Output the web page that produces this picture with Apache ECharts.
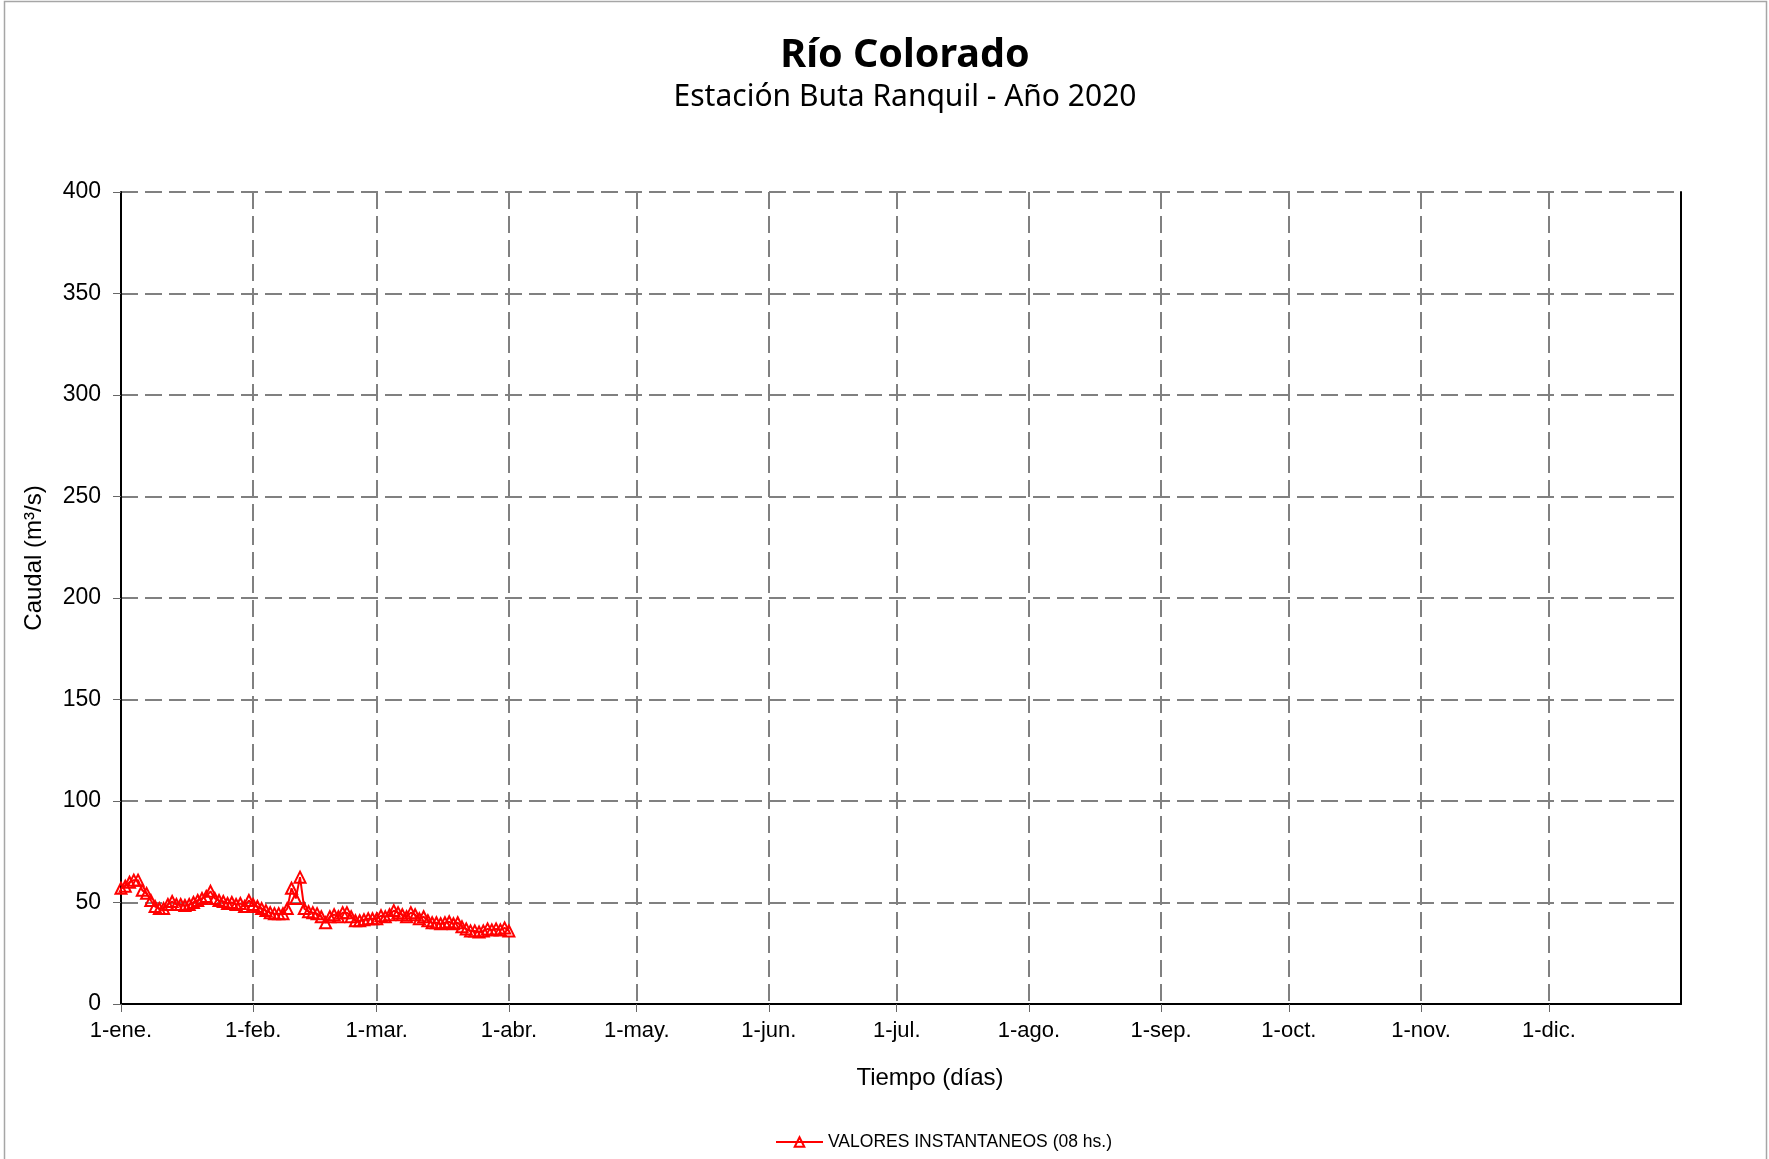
<!DOCTYPE html>
<html>
<head>
<meta charset="utf-8">
<script src="https://cdn.jsdelivr.net/npm/echarts@6/dist/echarts.min.js"></script>
<style>
html,body{margin:0;padding:0;background:#fff;}
#chart{width:1769px;height:1159px;}
</style>
</head>
<body>
<div id="chart"></div>
<script>
// ---- data ----
const chartTitle = 'Río Colorado';
const chartSubtitle = 'Estación Buta Ranquil - Año 2020';
const seriesName = 'VALORES INSTANTANEOS (08 hs.)';
const daysInMonth = [31, 29, 31, 30, 31, 30, 31, 31, 30, 31, 30, 31];
const monthLabels = ['1-ene.', '1-feb.', '1-mar.', '1-abr.', '1-may.', '1-jun.', '1-jul.', '1-ago.', '1-sep.', '1-oct.', '1-nov.', '1-dic.'];
const yTicks = [0, 50, 100, 150, 200, 250, 300, 350, 400];
// daily flow, 1-ene. to 1-abr. (m3/s)
const caudal = [
  57, 58, 60, 61, 61, 56, 54.5, 51, 48, 47,
  47, 49, 50.5, 49, 49, 48.5, 49, 50, 51, 52,
  53, 55.5, 52, 51, 50.5, 49.5, 50, 49, 49.5, 48,
  51, 49, 48, 47, 46, 45, 44.5, 44.5, 44.5, 47,
  57, 52, 62.5, 47, 45.5, 45, 44.5, 43, 40, 43,
  44, 43, 45, 45, 43, 41, 41, 41.5, 42, 42,
  42, 43.5, 43, 44, 46, 45, 44, 43, 45, 44,
  42, 43, 41, 40, 40, 39.5, 40, 40.5, 39.5, 40,
  38, 37, 36, 36, 35.5, 36, 37, 36.5, 37, 36.5,
  37.5, 36
];

// ---- category axis: every day of 2020 plus 1-ene. 2021 ----
const categories = [];
const monthStartIdx = [];
daysInMonth.forEach(function (n, m) {
  monthStartIdx.push(categories.length);
  for (let d = 1; d <= n; d++) categories.push(d + '/' + (m + 1) + '/2020');
});
categories.push('1/1/2021');

const isMonthStart = function (i) { return monthStartIdx.indexOf(i) >= 0; };

const chart = echarts.init(document.getElementById('chart'), null, {renderer: 'canvas'});
const axisFont = 'Liberation Sans, Arial, sans-serif';

chart.setOption({
  backgroundColor: '#ffffff',
  animation: false,
  graphic: [{
    type: 'rect',
    shape: {x: 4.5, y: 1.5, width: 1762, height: 1200},
    style: {fill: 'none', stroke: '#a6a6a6', lineWidth: 1.5},
    silent: true
  }],
  title: [{
    text: chartTitle,
    left: 900, top: 31, textAlign: 'center',
    textStyle: {fontFamily: 'Noto Sans', fontWeight: 'bold', fontSize: 39.5, color: '#000'}
  }, {
    text: chartSubtitle,
    left: 900, top: 77, textAlign: 'center',
    textStyle: {fontFamily: 'Noto Sans', fontWeight: 'normal', fontSize: 30, color: '#000'}
  }],
  legend: {
    data: [seriesName],
    left: 770, top: 1128,
    itemWidth: 47, itemHeight: 12,
    textStyle: {fontFamily: axisFont, fontSize: 17.5, color: '#000'}
  },
  grid: {left: 121, right: 88, top: 192, bottom: 155, containLabel: false},
  xAxis: {
    type: 'category',
    data: categories,
    boundaryGap: false,
    name: 'Tiempo (días)',
    nameLocation: 'middle',
    nameGap: 62,
    nameTextStyle: {fontFamily: axisFont, fontSize: 24, color: '#000', padding: [0, 0, 0, 58]},
    axisLine: {show: true, lineStyle: {color: '#000', width: 2}},
    axisTick: {show: true, interval: isMonthStart, length: 8, lineStyle: {color: '#666', width: 1}},
    axisLabel: {
      interval: isMonthStart,
      margin: 16,
      fontFamily: axisFont, fontSize: 22, color: '#000',
      formatter: function (v, i) {
        const k = monthStartIdx.indexOf(i);
        return k >= 0 ? monthLabels[k] : '';
      }
    },
    splitLine: {show: true, interval: isMonthStart, lineStyle: {color: '#808080', width: 2, type: [17, 7]}}
  },
  yAxis: [{
    type: 'value',
    min: yTicks[0], max: yTicks[yTicks.length - 1], interval: yTicks[1] - yTicks[0],
    name: 'Caudal (m³/s)',
    nameLocation: 'middle',
    nameRotate: 90,
    nameGap: 75,
    nameTextStyle: {fontFamily: axisFont, fontSize: 24, color: '#000', padding: [0, 0, 0, 80]},
    axisLine: {show: true, lineStyle: {color: '#000', width: 2}},
    axisTick: {show: true, length: 8, lineStyle: {color: '#666', width: 1}},
    axisLabel: {margin: 20, fontFamily: axisFont, fontSize: 23, color: '#000'},
    splitLine: {show: true, lineStyle: {color: '#808080', width: 2, type: [17, 7]}}
  }, {
    type: 'value',
    position: 'right',
    min: yTicks[0], max: yTicks[yTicks.length - 1], interval: yTicks[1] - yTicks[0],
    axisLine: {show: true, lineStyle: {color: '#000', width: 2}},
    axisTick: {show: false},
    axisLabel: {show: false},
    splitLine: {show: false}
  }],
  series: [{
    name: seriesName,
    type: 'line',
    yAxisIndex: 0,
    data: caudal,
    symbol: 'triangle',
    symbolSize: [11, 11],
    showAllSymbol: true,
    lineStyle: {color: '#ff0000', width: 2},
    itemStyle: {color: 'rgba(255,255,255,0)', borderColor: '#ff0000', borderWidth: 2}
  }]
});
</script>
</body>
</html>
